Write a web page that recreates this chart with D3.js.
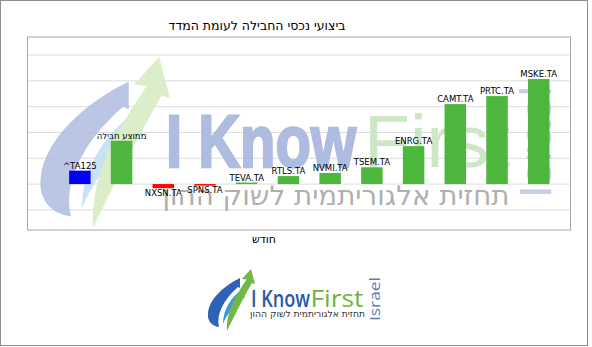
<!DOCTYPE html>
<html>
<head>
<meta charset="utf-8">
<script src="https://cdn.jsdelivr.net/npm/d3@7"></script>
<style>
  body { margin: 0; background: #fff; }
  svg { display: block; }
</style>
</head>
<body>
<svg id="chart" width="592" height="347"></svg>
<script>
// categories, left to right
var categories = ["^TA125", "ממוצע חבילה", "NXSN.TA", "SPNS.TA", "TEVA.TA", "RTLS.TA",
	"NVMI.TA", "TSEM.TA", "ENRG.TA", "CAMT.TA", "PRTC.TA", "MSKE.TA"];
// performance values, one gridline per unit
var values = [0.52, 1.68, -0.16, -0.06, 0.06, 0.31, 0.43, 0.65, 1.47, 3.10, 3.41, 4.07];
var gridValues = [-1, 0, 1, 2, 3, 4, 5];

var titleText = "ביצועי נכסי החבילה לעומת המדד";
var xLabelText = "חודש";
var sloganText = "תחזית אלגוריתמית לשוק ההון";

var FONT = "DejaVu Sans, sans-serif";
var GREEN = "#4cb63d";

var svg = d3.select("#chart");

// outer frame
svg.append("rect")
	.attr("x", 0.5).attr("y", 0.5)
	.attr("width", 587).attr("height", 345)
	.attr("fill", "#fff")
	.attr("stroke", "#8e8e8e");

// plot area
var plot = { left: 27.5, right: 570.5, top: 37, bottom: 230 };

var y = d3.scaleLinear()
	.domain([-1.78, 5.7])
	.range([plot.bottom, plot.top]);

var x = d3.scaleBand()
	.domain(categories)
	.range([59, 559.6])
	.paddingInner(0.485)
	.paddingOuter(0.2425);

// gridlines
svg.append("g").selectAll("line")
	.data(gridValues)
	.join("line")
	.attr("x1", plot.left).attr("x2", plot.right)
	.attr("y1", function (d) { return y(d); })
	.attr("y2", function (d) { return y(d); })
	.attr("stroke", "#dcdcdc")
	.attr("stroke-width", 1);

// swoosh paths in a local 48x62 box
var swooshBlue = "M33,9 C18,16 2,30 1,44 C0,52 5,57 12,58 C9,46 16,31 31,18 L33,19 Z";
var swooshCyan = "M35,20 C24,29 16,40 16,55 C20,45 27,36 38,28 Z";
var swooshGreen = "M44,0 L35,10 L39.5,10.5 C30,25 19,41 20,62 C27,48 35,31 45,14 L48,15 Z";

var drawSwoosh = function (g, tx, ty, sx, sy, colors, opacity) {
	var s = g.append("g")
		.attr("transform", "translate(" + tx + "," + ty + ") scale(" + sx + "," + sy + ")")
		.attr("opacity", opacity);
	s.append("path").attr("d", swooshBlue).attr("fill", colors[0]);
	s.append("path").attr("d", swooshCyan).attr("fill", colors[1]);
	s.append("path").attr("d", swooshGreen).attr("fill", colors[2]);
};

// watermark inside the plot
var wm = svg.append("g").attr("class", "watermark");
drawSwoosh(wm, 38, 57, 2.75, 2.75, ["#b3c0e0", "#c3e0f2", "#d8ecc4"], 0.9);

wm.append("text")
	.attr("x", 166).attr("y", 167)
	.attr("font-family", "Liberation Sans, sans-serif")
	.attr("font-weight", "bold")
	.attr("font-size", 75)
	.attr("textLength", 190)
	.attr("lengthAdjust", "spacingAndGlyphs")
	.attr("fill", "#aebcdf")
	.attr("stroke", "#aebcdf")
	.attr("stroke-width", 2.5)
	.text("I Know");

wm.append("text")
	.attr("x", 364).attr("y", 167)
	.attr("font-family", "Liberation Sans, sans-serif")
	.attr("font-size", 75)
	.attr("textLength", 146)
	.attr("lengthAdjust", "spacingAndGlyphs")
	.attr("fill", "#cde6c5")
	.text("First");

wm.append("text")
	.attr("transform", "translate(551,198) rotate(-90)")
	.attr("font-family", "Liberation Sans, sans-serif")
	.attr("font-size", 44)
	.attr("textLength", 112)
	.attr("lengthAdjust", "spacingAndGlyphs")
	.attr("fill", "#c3cee7")
	.text("Israel");

wm.append("text")
	.attr("x", 336).attr("y", 205)
	.attr("text-anchor", "middle")
	.attr("font-family", FONT)
	.attr("font-size", 27)
	.attr("textLength", 347)
	.attr("lengthAdjust", "spacingAndGlyphs")
	.attr("fill", "#b0b0b0")
	.text(sloganText);

// bars
var barColor = function (d, i) {
	if (i === 0) { return "#0000ff"; }
	return d < 0 ? "#ff0000" : GREEN;
};

svg.append("g").selectAll("rect")
	.data(values)
	.join("rect")
	.attr("x", function (d, i) { return x(categories[i]); })
	.attr("width", x.bandwidth())
	.attr("y", function (d) { return y(Math.max(0, d)); })
	.attr("height", function (d) { return Math.abs(y(d) - y(0)); })
	.attr("fill", barColor);

// bar labels: above positive bars, below negative ones
svg.append("g").selectAll("text")
	.data(values)
	.join("text")
	.attr("x", function (d, i) { return x(categories[i]) + x.bandwidth() / 2; })
	.attr("y", function (d) { return d < 0 ? y(d) + 7.5 : y(d) - 2; })
	.attr("text-anchor", "middle")
	.attr("font-family", FONT)
	.attr("font-size", 8.5)
	.attr("fill", "#000")
	.text(function (d, i) { return categories[i]; });

// plot border
svg.append("rect")
	.attr("x", plot.left).attr("y", plot.top)
	.attr("width", plot.right - plot.left)
	.attr("height", plot.bottom - plot.top)
	.attr("fill", "none")
	.attr("stroke", "#a8a8a8");

// title and axis label
svg.append("text")
	.attr("x", 257).attr("y", 30)
	.attr("text-anchor", "middle")
	.attr("font-family", FONT)
	.attr("font-size", 12.5)
	.attr("fill", "#000")
	.text(titleText);

svg.append("text")
	.attr("x", 264).attr("y", 242.5)
	.attr("text-anchor", "middle")
	.attr("font-family", FONT)
	.attr("font-size", 11)
	.attr("fill", "#000")
	.text(xLabelText);

// logo at the bottom
var logo = svg.append("g").attr("class", "logo");
drawSwoosh(logo, 207, 269, 1, 1, ["#2e62b4", "#3d9ad8", "#72b844"], 1);

logo.append("text")
	.attr("x", 251).attr("y", 306.5)
	.attr("font-family", "Open Sans, sans-serif")
	.attr("font-weight", 600)
	.attr("font-size", 23)
	.attr("textLength", 59)
	.attr("lengthAdjust", "spacingAndGlyphs")
	.attr("fill", "#2859a8")
	.text("I Know");

logo.append("text")
	.attr("x", 310.5).attr("y", 306.5)
	.attr("font-family", "Open Sans, sans-serif")
	.attr("font-size", 23)
	.attr("textLength", 53)
	.attr("lengthAdjust", "spacingAndGlyphs")
	.attr("fill", "#6cb43f")
	.text("First");

logo.append("text")
	.attr("x", 307.5).attr("y", 317)
	.attr("text-anchor", "middle")
	.attr("font-family", FONT)
	.attr("font-size", 9)
	.attr("textLength", 115)
	.attr("lengthAdjust", "spacingAndGlyphs")
	.attr("fill", "#333")
	.text(sloganText);

logo.append("text")
	.attr("transform", "translate(380,321) rotate(-90)")
	.attr("font-family", "Open Sans, sans-serif")
	.attr("font-size", 15)
	.attr("textLength", 44)
	.attr("lengthAdjust", "spacingAndGlyphs")
	.attr("fill", "#5a7db8")
	.text("Israel");
</script>
</body>
</html>
